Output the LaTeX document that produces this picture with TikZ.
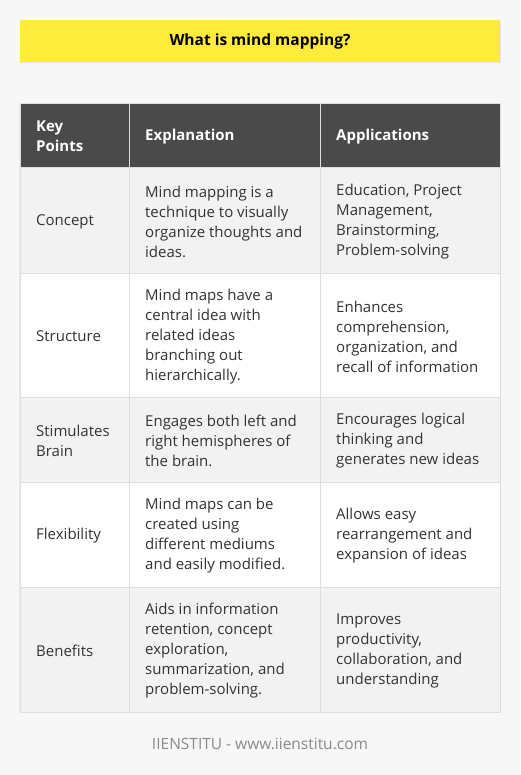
\documentclass[tikz,border=0pt]{standalone}
\usepackage{fontspec}
\setmainfont{Open Sans}

\definecolor{bg}{HTML}{F7F7F7}
\definecolor{titlebar}{HTML}{FFEB3B}
\definecolor{headbg}{HTML}{4A4A4A}
\definecolor{oddrow}{HTML}{F2F2F2}
\definecolor{gridline}{HTML}{DEDEDE}
\definecolor{bodytext}{HTML}{333333}
\definecolor{foottext}{HTML}{8A8A8A}

\tikzset{
  cell/.style={anchor=west,align=left,inner sep=0pt,text=bodytext,yshift=-1.5pt,
    font=\fontsize{15}{20}\selectfont},
  head/.style={cell,text=white,font=\fontsize{15}{20}\selectfont\bfseries},
}

\begin{document}
\begin{tikzpicture}[x=1pt,y=-1pt]
   % 背景
   \fill[bg] (0,0) rectangle (520,775);
   \useasboundingbox (0,0) rectangle (520,775);

   % タイトル
   \fill[black!10] (20,21) rectangle (501,63);
   \fill[titlebar] (20,20) rectangle (500,62);
   \node (title) [font=\fontsize{15.5}{18}\selectfont\bfseries] at (260,41) {What is mind mapping?};

   % 表の背景
   \fill[black!8] (19,103) rectangle (501,713);
   \fill[headbg] (20,103) rectangle (500,167);
   \fill[oddrow] (20,167) rectangle (500,273);
   \fill[white]  (20,273) rectangle (500,397);
   \fill[oddrow] (20,397) rectangle (500,482);
   \fill[white]  (20,482) rectangle (500,587);
   \fill[oddrow] (20,587) rectangle (500,712);

   % 罫線
   \draw[gridline] (20,103) rectangle (500,712);
   \draw[gridline] (129,103) -- (129,712);
   \draw[gridline] (320,103) -- (320,712);
   \draw[gridline] (20,167) -- (500,167);
   \draw[gridline] (20,273) -- (500,273);
   \draw[gridline] (20,397) -- (500,397);
   \draw[gridline] (20,482) -- (500,482);
   \draw[gridline] (20,587) -- (500,587);

   % 見出し
   \node (hkey) [head] at (36,135) {Key\\Points};
   \node (hexp) [head] at (145,135) {Explanation};
   \node (happ) [head] at (336,135) {Applications};

   % 1行目
   \node (k1) [cell] at (36,220) {Concept};
   \node (e1) [cell] at (145,220) {Mind mapping is a\\technique to visually\\organize thoughts and\\ideas.};
   \node (a1) [cell] at (336,220) {Education, Project\\Management,\\Brainstorming,\\Problem-solving};

   % 2行目
   \node (k2) [cell] at (36,335) {Structure};
   \node (e2) [cell] at (145,335) {Mind maps have a\\central idea with\\related ideas\\branching out\\hierarchically.};
   \node (a2) [cell] at (336,335) {Enhances\\comprehension,\\organization, and\\recall of information};

   % 3行目
   \node (k3) [cell] at (36,439.5) {Stimulates\\Brain};
   \node (e3) [cell] at (145,439.5) {Engages both left and\\right hemispheres of\\the brain.};
   \node (a3) [cell] at (336,439.5) {Encourages logical\\thinking and\\generates new ideas};

   % 4行目
   \node (k4) [cell] at (36,534.5) {Flexibility};
   \node (e4) [cell] at (145,534.5) {Mind maps can be\\created using\\different mediums\\and easily modified.};
   \node (a4) [cell] at (336,534.5) {Allows easy\\rearrangement and\\expansion of ideas};

   % 5行目
   \node (k5) [cell] at (36,649.5) {Benefits};
   \node (e5) [cell] at (145,649.5) {Aids in information\\retention, concept\\exploration,\\summarization, and\\problem-solving.};
   \node (a5) [cell] at (336,649.5) {Improves\\productivity,\\collaboration, and\\understanding};

   % フッター
   \node (foot) [text=foottext,font=\fontsize{15.5}{18}\selectfont] at (260,744) {IIENSTITU - www.iienstitu.com};
\end{tikzpicture}
\end{document}
